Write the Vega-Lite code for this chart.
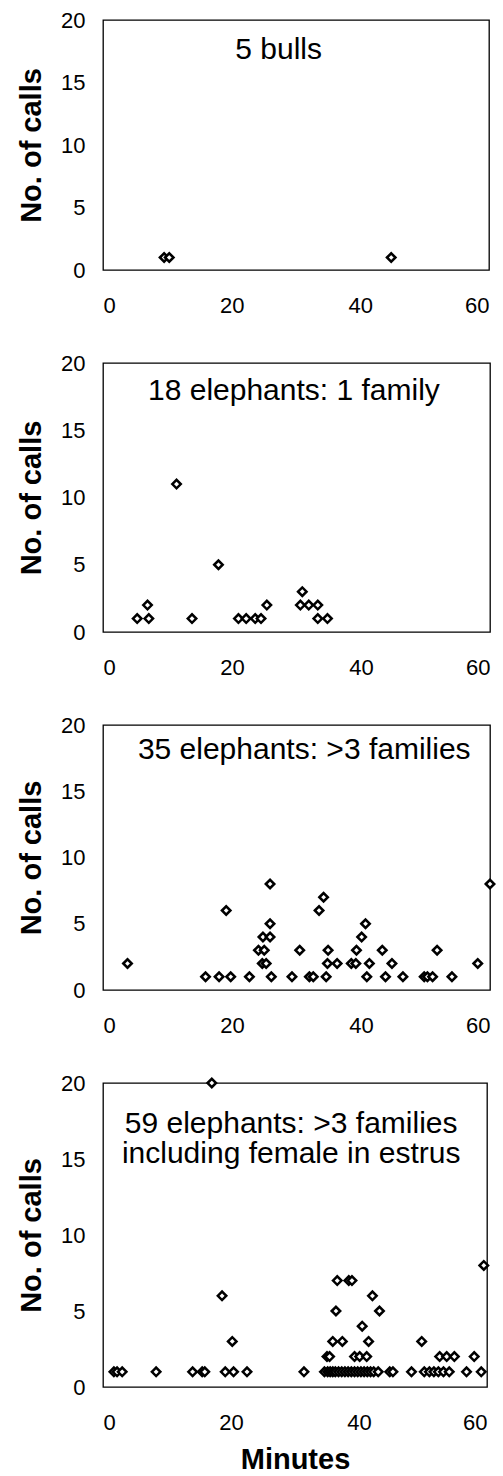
{
  "$schema": "https://vega.github.io/schema/vega-lite/v6.json",
  "background": "white",
  "padding": {"left": 16, "top": 8, "right": 5, "bottom": 0},
  "config": {
    "font": "Liberation Sans",
    "view": {"stroke": "black", "strokeWidth": 1.3},
    "axis": {"domain": false, "ticks": false, "grid": false, "labelFont": "Liberation Sans", "labelFontSize": 22, "labelColor": "black", "titleFont": "Liberation Sans", "titleFontSize": 29, "titleFontWeight": "bold", "titleColor": "black"},
    "axisX": {"labelPadding": 25, "titlePadding": 12},
    "axisY": {"labelPadding": 18, "titlePadding": 14},
    "point": {"shape": "diamond", "size": 72, "filled": false, "fill": "white", "fillOpacity": 1, "stroke": "black", "strokeWidth": 2.5, "opacity": 1},
    "text": {"font": "Liberation Sans", "fontSize": 30, "color": "black", "align": "center", "baseline": "middle"}
  },
  "datasets": {
    "p1": [{"minute": 9.5, "calls": 1}, {"minute": 10.3, "calls": 1}, {"minute": 44.8, "calls": 1}],
    "p2": [
      {"minute": 5.3, "calls": 1}, {"minute": 6.9, "calls": 2}, {"minute": 7.1, "calls": 1}, {"minute": 11.4, "calls": 11},
      {"minute": 13.8, "calls": 1}, {"minute": 17.9, "calls": 5}, {"minute": 21.0, "calls": 1}, {"minute": 22.2, "calls": 1},
      {"minute": 23.6, "calls": 1}, {"minute": 24.5, "calls": 1}, {"minute": 25.4, "calls": 2}, {"minute": 30.9, "calls": 3},
      {"minute": 30.6, "calls": 2}, {"minute": 31.9, "calls": 2}, {"minute": 33.3, "calls": 2}, {"minute": 33.3, "calls": 1},
      {"minute": 34.8, "calls": 1}
    ],
    "p3": [
      {"minute": 3.8, "calls": 2}, {"minute": 15.9, "calls": 1}, {"minute": 18.0, "calls": 1}, {"minute": 19.8, "calls": 1},
      {"minute": 19.1, "calls": 6}, {"minute": 22.7, "calls": 1}, {"minute": 24.1, "calls": 3}, {"minute": 24.8, "calls": 4},
      {"minute": 25.0, "calls": 3}, {"minute": 24.7, "calls": 2}, {"minute": 25.3, "calls": 2}, {"minute": 25.9, "calls": 8},
      {"minute": 25.9, "calls": 5}, {"minute": 25.9, "calls": 4}, {"minute": 26.1, "calls": 1}, {"minute": 29.3, "calls": 1},
      {"minute": 30.5, "calls": 3}, {"minute": 32.0, "calls": 1}, {"minute": 32.6, "calls": 1}, {"minute": 33.5, "calls": 6},
      {"minute": 34.2, "calls": 7}, {"minute": 34.6, "calls": 1}, {"minute": 34.9, "calls": 3}, {"minute": 34.8, "calls": 2},
      {"minute": 36.3, "calls": 2}, {"minute": 38.5, "calls": 2}, {"minute": 39.2, "calls": 2}, {"minute": 39.3, "calls": 3},
      {"minute": 40.1, "calls": 4}, {"minute": 40.7, "calls": 5}, {"minute": 40.9, "calls": 1}, {"minute": 41.3, "calls": 2},
      {"minute": 43.3, "calls": 3}, {"minute": 43.8, "calls": 1}, {"minute": 44.8, "calls": 2}, {"minute": 46.5, "calls": 1},
      {"minute": 49.8, "calls": 1}, {"minute": 50.3, "calls": 1}, {"minute": 51.1, "calls": 1}, {"minute": 51.8, "calls": 3},
      {"minute": 54.1, "calls": 1}, {"minute": 58.1, "calls": 2}, {"minute": 60.0, "calls": 8}
    ],
    "p4": [
      {"minute": 1.7, "calls": 1}, {"minute": 2.2, "calls": 1}, {"minute": 3.0, "calls": 1}, {"minute": 8.3, "calls": 1},
      {"minute": 14.0, "calls": 1}, {"minute": 15.5, "calls": 1}, {"minute": 15.9, "calls": 1}, {"minute": 19.1, "calls": 1},
      {"minute": 20.4, "calls": 1}, {"minute": 22.5, "calls": 1}, {"minute": 31.4, "calls": 1}, {"minute": 34.6, "calls": 1},
      {"minute": 35.1, "calls": 1}, {"minute": 35.5, "calls": 1}, {"minute": 35.9, "calls": 1}, {"minute": 36.3, "calls": 1},
      {"minute": 36.8, "calls": 1}, {"minute": 37.3, "calls": 1}, {"minute": 37.8, "calls": 1}, {"minute": 38.3, "calls": 1},
      {"minute": 38.8, "calls": 1}, {"minute": 39.3, "calls": 1}, {"minute": 39.8, "calls": 1}, {"minute": 40.3, "calls": 1},
      {"minute": 40.8, "calls": 1}, {"minute": 41.3, "calls": 1}, {"minute": 41.8, "calls": 1}, {"minute": 42.3, "calls": 1},
      {"minute": 43.0, "calls": 1}, {"minute": 44.8, "calls": 1}, {"minute": 45.3, "calls": 1}, {"minute": 48.2, "calls": 1},
      {"minute": 50.2, "calls": 1}, {"minute": 51.0, "calls": 1}, {"minute": 51.7, "calls": 1}, {"minute": 52.4, "calls": 1},
      {"minute": 53.2, "calls": 1}, {"minute": 54.1, "calls": 1}, {"minute": 56.8, "calls": 1}, {"minute": 59.1, "calls": 1},
      {"minute": 35.0, "calls": 2}, {"minute": 35.4, "calls": 2}, {"minute": 39.3, "calls": 2}, {"minute": 40.1, "calls": 2},
      {"minute": 41.2, "calls": 2}, {"minute": 52.6, "calls": 2}, {"minute": 53.7, "calls": 2}, {"minute": 54.9, "calls": 2},
      {"minute": 58.0, "calls": 2},
      {"minute": 20.2, "calls": 3}, {"minute": 35.9, "calls": 3}, {"minute": 37.4, "calls": 3}, {"minute": 41.5, "calls": 3},
      {"minute": 49.8, "calls": 3},
      {"minute": 40.5, "calls": 4},
      {"minute": 36.4, "calls": 5}, {"minute": 43.2, "calls": 5},
      {"minute": 18.6, "calls": 6}, {"minute": 42.1, "calls": 6},
      {"minute": 36.6, "calls": 7}, {"minute": 38.4, "calls": 7}, {"minute": 38.9, "calls": 7},
      {"minute": 59.5, "calls": 8},
      {"minute": 17.0, "calls": 20}
    ]
  },
  "spacing": 93,
  "bounds": "flush",
  "vconcat": [
    {
      "width": 386, "height": 250,
      "layer": [
        {
          "data": {"name": "p1"},
          "mark": "point",
          "encoding": {
            "x": {"field": "minute", "type": "quantitative", "scale": {"domain": [0, 60], "nice": false}, "axis": {"values": [0, 20, 40, 60], "title": null}},
            "y": {"field": "calls", "type": "quantitative", "scale": {"domain": [0, 20], "nice": false}, "axis": {"values": [0, 5, 10, 15, 20], "title": "No. of calls"}}
          }
        },
        {
          "data": {"values": [{}]},
          "mark": "text",
          "encoding": {
            "x": {"datum": 27.3, "type": "quantitative", "axis": {"values": [0, 20, 40, 60], "title": null}},
            "y": {"datum": 17.6, "type": "quantitative", "axis": {"values": [0, 5, 10, 15, 20], "title": "No. of calls"}},
            "text": {"value": "5 bulls"}
          }
        }
      ]
    },
    {
      "width": 387, "height": 269,
      "layer": [
        {
          "data": {"name": "p2"},
          "mark": "point",
          "encoding": {
            "x": {"field": "minute", "type": "quantitative", "scale": {"domain": [0, 60], "nice": false}, "axis": {"values": [0, 20, 40, 60], "title": null}},
            "y": {"field": "calls", "type": "quantitative", "scale": {"domain": [0, 20], "nice": false}, "axis": {"values": [0, 5, 10, 15, 20], "title": "No. of calls"}}
          }
        },
        {
          "data": {"values": [{}]},
          "mark": "text",
          "encoding": {
            "x": {"datum": 29.6, "type": "quantitative", "axis": {"values": [0, 20, 40, 60], "title": null}},
            "y": {"datum": 17.9, "type": "quantitative", "axis": {"values": [0, 5, 10, 15, 20], "title": "No. of calls"}},
            "text": {"value": "18 elephants: 1 family"}
          }
        }
      ]
    },
    {
      "width": 387, "height": 265,
      "layer": [
        {
          "data": {"name": "p3"},
          "mark": "point",
          "encoding": {
            "x": {"field": "minute", "type": "quantitative", "scale": {"domain": [0, 60], "nice": false}, "axis": {"values": [0, 20, 40, 60], "title": null}},
            "y": {"field": "calls", "type": "quantitative", "scale": {"domain": [0, 20], "nice": false}, "axis": {"values": [0, 5, 10, 15, 20], "title": "No. of calls"}}
          }
        },
        {
          "data": {"values": [{}]},
          "mark": "text",
          "encoding": {
            "x": {"datum": 31.2, "type": "quantitative", "axis": {"values": [0, 20, 40, 60], "title": null}},
            "y": {"datum": 18.1, "type": "quantitative", "axis": {"values": [0, 5, 10, 15, 20], "title": "No. of calls"}},
            "text": {"value": "35 elephants: >3 families"}
          }
        }
      ]
    },
    {
      "width": 384, "height": 304,
      "layer": [
        {
          "data": {"name": "p4"},
          "mark": "point",
          "encoding": {
            "x": {"field": "minute", "type": "quantitative", "scale": {"domain": [0, 60], "nice": false}, "axis": {"values": [0, 20, 40, 60], "title": "Minutes"}},
            "y": {"field": "calls", "type": "quantitative", "scale": {"domain": [0, 20], "nice": false}, "axis": {"values": [0, 5, 10, 15, 20], "title": "No. of calls"}}
          }
        },
        {
          "data": {"values": [{}]},
          "mark": {"type": "text", "lineHeight": 30},
          "encoding": {
            "x": {"datum": 29.4, "type": "quantitative", "axis": {"values": [0, 20, 40, 60], "title": "Minutes"}},
            "y": {"datum": 17.3, "type": "quantitative", "axis": {"values": [0, 5, 10, 15, 20], "title": "No. of calls"}},
            "text": {"value": ["59 elephants: >3 families", "including female in estrus"]}
          }
        }
      ]
    }
  ]
}
